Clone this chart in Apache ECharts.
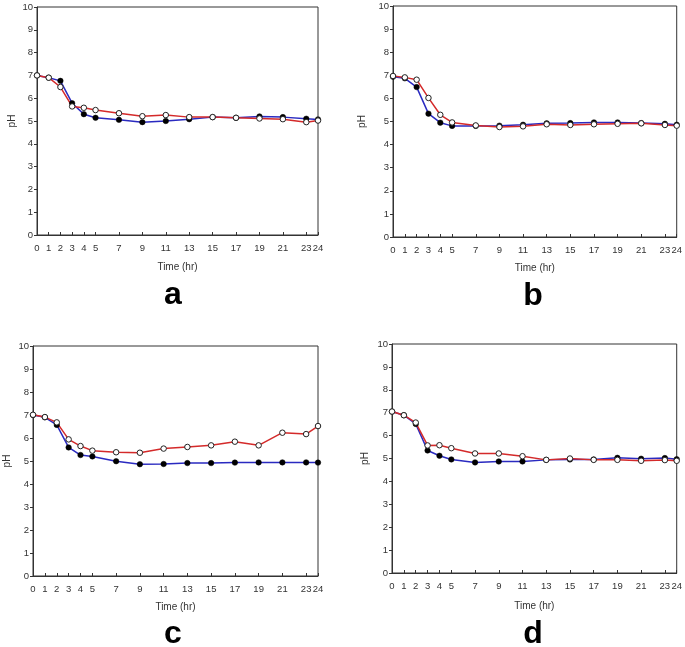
<!DOCTYPE html>
<html>
<head>
<meta charset="utf-8">
<script src="https://cdn.jsdelivr.net/npm/echarts@6/dist/echarts.min.js"></script>
<style>html,body{margin:0;padding:0;background:#fff}#c{width:685px;height:647px}</style>
</head>
<body>
<div id="c"></div>
<script>
const times = [0, 1, 2, 3, 4, 5, 7, 9, 11, 13, 15, 17, 19, 21, 23, 24];
const yTicks = [0, 1, 2, 3, 4, 5, 6, 7, 8, 9, 10];
const panelLabels = ['a', 'b', 'c', 'd'];

const aBlue = [7.0, 6.9, 6.76, 5.78, 5.3, 5.14, 5.05, 4.95, 5.0, 5.08, 5.17, 5.14, 5.2, 5.17, 5.1, 5.07];
const aRed  = [7.0, 6.9, 6.49, 5.64, 5.58, 5.48, 5.34, 5.21, 5.26, 5.17, 5.17, 5.14, 5.11, 5.08, 4.95, 5.02];
const bBlue = [6.94, 6.87, 6.49, 5.34, 4.95, 4.81, 4.81, 4.82, 4.86, 4.92, 4.93, 4.96, 4.96, 4.93, 4.9, 4.86];
const bRed  = [6.97, 6.91, 6.81, 6.02, 5.29, 4.96, 4.83, 4.76, 4.79, 4.88, 4.85, 4.88, 4.9, 4.92, 4.85, 4.82];
const cBlue = [7.0, 6.9, 6.57, 5.59, 5.26, 5.2, 4.99, 4.86, 4.87, 4.91, 4.91, 4.93, 4.94, 4.94, 4.94, 4.93];
const cRed  = [7.01, 6.91, 6.68, 5.94, 5.65, 5.45, 5.38, 5.36, 5.54, 5.61, 5.68, 5.84, 5.68, 6.23, 6.17, 6.52];
const dBlue = [7.05, 6.89, 6.51, 5.35, 5.12, 4.96, 4.83, 4.87, 4.87, 4.94, 4.96, 4.96, 5.03, 4.99, 5.02, 4.97];
const dRed  = [7.05, 6.89, 6.57, 5.57, 5.58, 5.45, 5.22, 5.22, 5.1, 4.94, 5.0, 4.94, 4.94, 4.9, 4.93, 4.9];

const panels = [[aBlue, aRed], [bBlue, bRed], [cBlue, cRed], [dBlue, dRed]];

const grids = [
  {left: 37, top: 7, width: 281, height: 228},
  {left: 393, top: 6, width: 286, height: 231},
  {left: 33, top: 346, width: 285, height: 230},
  {left: 392, top: 344, width: 286, height: 229}
];
const yGaps = [20, 26, 21, 22];
const xGaps = [27, 26, 26, 28];
const letterPos = [[173, 295], [533, 296], [173, 634], [533, 634]];

const axisColor = '#333';
const labelStyle = {fontFamily: 'Arial, "Liberation Sans", sans-serif', fontSize: 9.5, color: '#333'};

const option = {
  animation: false,
  backgroundColor: '#fff',
  grid: grids.map(g => Object.assign({show: true, borderColor: axisColor, borderWidth: 1, backgroundColor: 'transparent'}, g)),
  xAxis: grids.map((g, i) => ({
    gridIndex: i, type: 'value', min: 0, max: 24, interval: 1,
    name: 'Time (hr)', nameLocation: 'middle', nameGap: xGaps[i],
    nameTextStyle: {fontFamily: 'Arial, "Liberation Sans", sans-serif', fontSize: 10, color: '#333'},
    splitLine: {show: false},
    axisLine: {show: true, lineStyle: {color: axisColor, width: 1}},
    axisTick: {show: true, inside: true, length: 3, customValues: times, lineStyle: {color: axisColor}},
    axisLabel: Object.assign({customValues: times, margin: 8}, labelStyle)
  })),
  yAxis: grids.map((g, i) => ({
    gridIndex: i, type: 'value', min: 0, max: 10, interval: 1,
    name: 'pH', nameLocation: 'middle', nameGap: yGaps[i],
    nameTextStyle: {fontFamily: 'Arial, "Liberation Sans", sans-serif', fontSize: 10, color: '#333'},
    splitLine: {show: false},
    axisLine: {show: true, lineStyle: {color: axisColor, width: 1}},
    axisTick: {show: true, inside: false, length: 3, customValues: yTicks, lineStyle: {color: axisColor}},
    axisLabel: Object.assign({customValues: yTicks, margin: 4}, labelStyle)
  })),
  series: [],
  graphic: panelLabels.map((t, i) => ({
    type: 'text', x: letterPos[i][0], y: letterPos[i][1],
    style: {text: t, fontFamily: 'Arial, "Liberation Sans", sans-serif', fontWeight: 'bold', fontSize: 32, fill: '#000', textAlign: 'center', textVerticalAlign: 'middle'}
  }))
};

panels.forEach((p, i) => {
  option.series.push({
    type: 'line', xAxisIndex: i, yAxisIndex: i,
    data: times.map((t, k) => [t, p[0][k]]),
    symbol: 'circle', symbolSize: 5.5,
    lineStyle: {color: '#2a2ac0', width: 1.5},
    itemStyle: {color: '#000', borderColor: '#000', borderWidth: 0.5}
  });
  option.series.push({
    type: 'line', xAxisIndex: i, yAxisIndex: i,
    data: times.map((t, k) => [t, p[1][k]]),
    symbol: 'circle', symbolSize: 5.5,
    lineStyle: {color: '#d42a2a', width: 1.5},
    itemStyle: {color: '#fff', borderColor: '#222', borderWidth: 1}
  });
});

const chart = echarts.init(document.getElementById('c'), null, {renderer: 'canvas'});
chart.setOption(option);
</script>
</body>
</html>
